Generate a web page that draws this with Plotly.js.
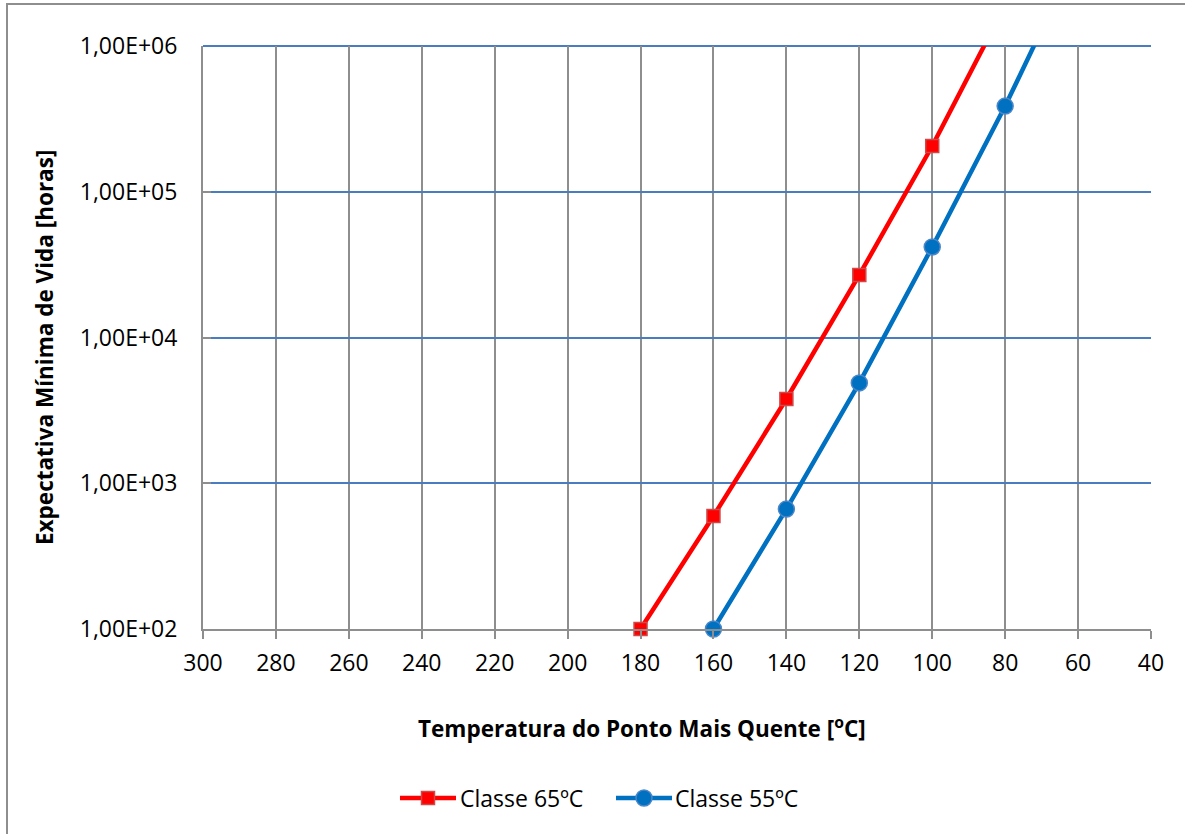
<!DOCTYPE html>
<html>
<head>
<meta charset="utf-8">
<script src="https://cdn.plot.ly/plotly-3.0.1.min.js"></script>
<style>
  html, body { margin: 0; padding: 0; background: #fff; }
  #wrap { position: relative; width: 1185px; height: 834px; overflow: hidden; }
  #chart { position: absolute; left: 0; top: 0; width: 1185px; height: 834px; }
  #frame { position: absolute; left: 6px; top: 3px; width: 1200px; height: 900px;
           border-left: 2px solid #8e8e8e; border-top: 2px solid #8e8e8e; pointer-events: none; }
</style>
</head>
<body>
<div id="wrap">
  <div id="chart"></div>
  <div id="frame"></div>
</div>
<script>
// Temperatura do ponto mais quente [ºC]
const tempClasse65 = [180, 160, 140, 120, 100, 80];
const vidaClasse65 = [100, 596, 3785, 26850, 206000, 1900000];
const tempClasse55 = [160, 140, 120, 100, 80, 60];
const vidaClasse55 = [100, 665, 4880, 41800, 387000, 4300000];

const seriesNames = ['Classe 65ºC', 'Classe 55ºC'];
const yTickVals = [100, 1000, 10000, 100000, 1000000];
const yTickText = ['1,00E+02', '1,00E+03', '1,00E+04', '1,00E+05', '1,00E+06'];
const xTickVals = [300, 280, 260, 240, 220, 200, 180, 160, 140, 120, 100, 80, 60, 40];

const Y_MAX = 1000000;
const FONT = '"Open Sans", "Noto Sans", sans-serif';
const RED = '#FF0000', RED_EDGE = '#D04848';
const BLUE = '#0070C0', BLUE_EDGE = '#4A86C8';
const GRID_BLUE = '#4A7CC0';

const L = 203, R = 1151, T = 46, B = 629;
const W = 1185, H = 834;
const px2x = p => (p - L) / (R - L);
const py2y = p => (B - p) / (B - T);

const t65 = {
  x: tempClasse65, y: vidaClasse65, name: seriesNames[0], type: 'scatter', mode: 'lines+markers',
  cliponaxis: false, showlegend: false,
  line: { color: RED, width: 4.5 },
  marker: { symbol: 'square', size: 13, color: RED,
            opacity: vidaClasse65.map(v => v <= Y_MAX ? 1 : 0),
            line: { color: RED_EDGE, width: 1.5 } },
  hoverinfo: 'x+y'
};
const t55 = {
  x: tempClasse55, y: vidaClasse55, name: seriesNames[1], type: 'scatter', mode: 'lines+markers',
  cliponaxis: false, showlegend: false,
  line: { color: BLUE, width: 4.5 },
  marker: { symbol: 'circle', size: 16, color: BLUE,
            opacity: vidaClasse55.map(v => v <= Y_MAX ? 1 : 0),
            line: { color: BLUE_EDGE, width: 1.5 } },
  hoverinfo: 'x+y'
};

// manual legend (Excel-style long line samples)
const legY = 798;
function legendItem(x0, x1, color, edge, symbol, size, textX, text) {
  const cx = (x0 + x1) / 2, h = size / 2;
  const shapes = [
    { type: 'line', xref: 'paper', yref: 'paper', x0: px2x(x0), x1: px2x(x1), y0: py2y(legY), y1: py2y(legY),
      line: { color: color, width: 4.5 } },
    { type: symbol === 'square' ? 'rect' : 'circle', xref: 'paper', yref: 'paper',
      x0: px2x(cx - h), x1: px2x(cx + h), y0: py2y(legY + h), y1: py2y(legY - h),
      fillcolor: color, line: { color: edge, width: 1.5 } }
  ];
  const ann = { text: text, xref: 'paper', yref: 'paper', x: px2x(textX), y: py2y(legY),
    xanchor: 'left', yanchor: 'middle', showarrow: false,
    font: { family: FONT, size: 23, color: '#000' } };
  return { shapes, ann };
}
const leg1 = legendItem(400, 456, RED, RED_EDGE, 'square', 13, 458, seriesNames[0]);
const leg2 = legendItem(616, 672, BLUE, BLUE_EDGE, 'circle', 16, 673, seriesNames[1]);

const layout = {
  width: W, height: H,
  margin: { l: L, r: W - R, t: T, b: H - B, pad: 0 },
  paper_bgcolor: '#ffffff', plot_bgcolor: '#ffffff',
  font: { family: FONT, size: 23, color: '#000' },
  showlegend: false,
  xaxis: {
    range: [300, 40], autorange: false,
    tickmode: 'array', tickvals: xTickVals, ticktext: xTickVals.map(String),
    showgrid: true, gridcolor: '#8e8e8e', gridwidth: 2,
    showline: true, linecolor: '#8e8e8e', linewidth: 2,
    ticks: 'outside', ticklen: 8, tickwidth: 2, tickcolor: '#8e8e8e',
    ticklabelstandoff: 4,
    zeroline: false, mirror: false,
    tickfont: { family: FONT, size: 23, color: '#000' }
  },
  yaxis: {
    type: 'log', range: [2, 6], autorange: false,
    tickmode: 'array', tickvals: yTickVals, ticktext: yTickText,
    showgrid: true, gridcolor: GRID_BLUE, gridwidth: 2,
    showline: true, linecolor: '#8e8e8e', linewidth: 2,
    ticks: 'inside', ticklen: 8, tickwidth: 2, tickcolor: '#8e8e8e',
    ticklabelstandoff: 19,
    zeroline: false,
    tickfont: { family: FONT, size: 23, color: '#000' }
  },
  shapes: [
    // top gridline at 1,00E+06 (edge of plot area)
    { type: 'line', xref: 'paper', yref: 'paper', x0: 0, x1: 1, y0: 1, y1: 1,
      line: { color: GRID_BLUE, width: 2 }, layer: 'below' },
    ...leg1.shapes, ...leg2.shapes
  ],
  annotations: [
    {
      text: 'Temperatura do Ponto Mais Quente [<sup>o</sup>C]',
      xref: 'paper', yref: 'paper', x: px2x(642), y: py2y(727),
      xanchor: 'center', yanchor: 'middle', showarrow: false,
      font: { family: FONT, size: 22.5, color: '#000', weight: 'bold' }
    },
    {
      text: 'Expectativa Mínima de Vida [horas]',
      xref: 'paper', yref: 'paper', x: px2x(45), y: py2y(348),
      xanchor: 'center', yanchor: 'middle', showarrow: false, textangle: -90,
      font: { family: FONT, size: 22.5, color: '#000', weight: 'bold' }
    },
    leg1.ann, leg2.ann
  ]
};

Plotly.newPlot('chart', [t65, t55], layout, { displayModeBar: false, staticPlot: true });
</script>
</body>
</html>
